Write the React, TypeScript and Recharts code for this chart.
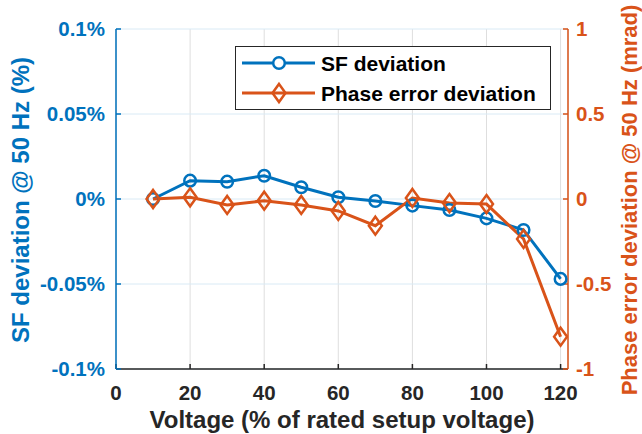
import { CartesianGrid, Legend, Line, LineChart, XAxis, YAxis } from 'recharts';

const voltages = [10, 20, 30, 40, 50, 60, 70, 80, 90, 100, 110, 120];
const sfDeviation = [0, 0.0108, 0.0102, 0.0137, 0.0069, 0.001, -0.0012, -0.0039, -0.0065, -0.0114, -0.0182, -0.047];
const phaseDeviation = [0, 0.01, -0.035, -0.01, -0.035, -0.07, -0.157, 0.006, -0.024, -0.03, -0.235, -0.81];

const xTicks = [0, 20, 40, 60, 80, 100, 120];
const sfTicks = [-0.1, -0.05, 0, 0.05, 0.1];
const phaseTicks = [-1, -0.5, 0, 0.5, 1];

const BLUE = '#0072BD';
const ORANGE = '#D95319';
const DARK = '#262626';
const FONT = '"Liberation Sans", Arial, Helvetica, sans-serif';

const data = voltages.map((v, i) => ({ v, sf: sfDeviation[i], phase: phaseDeviation[i] }));

type DotProps = { cx?: number; cy?: number; index?: number };

function Diamond({ cx, cy, index }: DotProps) {
  if (cx == null || cy == null) return <g key={`d${index}`} />;
  const w = 6.5;
  const h = 9;
  return (
    <path
      key={`d${index}`}
      d={`M${cx},${cy - h}L${cx + w},${cy}L${cx},${cy + h}L${cx - w},${cy}Z`}
      fill="none"
      stroke={ORANGE}
      strokeWidth={2.5}
    />
  );
}

function LegendBox() {
  const rows = [
    { label: 'SF deviation', color: BLUE, marker: 'circle' },
    { label: 'Phase error deviation', color: ORANGE, marker: 'diamond' },
  ];
  return (
    <div
      style={{
        width: 316,
        height: 64,
        border: `1.5px solid ${DARK}`,
        background: '#fff',
        boxSizing: 'border-box',
        position: 'relative',
      }}
    >
      <svg width={316} height={64} style={{ position: 'absolute', left: -1.5, top: -1.5 }}>
        {rows.map((r, i) => {
          const y = 17 + i * 30;
          return (
            <g key={r.label}>
              <line x1={7} x2={80} y1={y} y2={y} stroke={r.color} strokeWidth={3} />
              {r.marker === 'circle' ? (
                <circle cx={44} cy={y} r={5.8} fill="#fff" stroke={r.color} strokeWidth={2.5} />
              ) : (
                <path
                  d={`M44,${y - 9}L50.5,${y}L44,${y + 9}L37.5,${y}Z`}
                  fill="none"
                  stroke={r.color}
                  strokeWidth={2.5}
                />
              )}
              <text x={86} y={y + 7.5} fontFamily={FONT} fontWeight="bold" fontSize={21} fill="#000">
                {r.label}
              </text>
            </g>
          );
        })}
      </svg>
    </div>
  );
}

export default function App() {
  const tickFont = { fontFamily: FONT, fontWeight: 'bold', fontSize: 20.5 };
  return (
    <div style={{ position: 'absolute', left: 0, top: 0, width: 642, height: 434, background: '#fff' }}>
      <LineChart width={642} height={434} data={data} margin={{ top: 29, right: 0, bottom: 0, left: 0 }}>
        <CartesianGrid xAxisId={0} yAxisId="left" horizontal={false} stroke="#DEDEDE" strokeWidth={1} />
        <CartesianGrid xAxisId={0} yAxisId="left" vertical={false} stroke="#D9EAF5" strokeWidth={1} />
        <XAxis
          xAxisId={0}
          dataKey="v"
          type="number"
          domain={[0, 122]}
          ticks={xTicks}
          allowDataOverflow
          height={65}
          stroke={DARK}
          strokeWidth={1.5}
          tickSize={-5}
          tickMargin={21}
          tick={{ ...tickFont, fill: DARK }}
          label={{
            content: () => (
              <text x={342} y={428} textAnchor="middle" fontFamily={FONT} fontWeight="bold" fontSize={24} fill={DARK}>
                Voltage (% of rated setup voltage)
              </text>
            ),
          }}
        />
        <XAxis
          xAxisId="top"
          orientation="top"
          dataKey="v"
          type="number"
          domain={[0, 122]}
          ticks={xTicks}
          height={0}
          stroke={DARK}
          strokeWidth={1.5}
          tickSize={-5}
          tick={() => <g />}
        />
        <YAxis
          yAxisId="left"
          domain={[-0.1, 0.1]}
          ticks={sfTicks}
          width={116}
          stroke={BLUE}
          strokeWidth={1.5}
          tickSize={-5}
          tickMargin={16}
          tick={{ ...tickFont, fill: BLUE }}
          tickFormatter={(v: number) => `${v}%`}
          label={{
            content: () => (
              <text
                x={29}
                y={200}
                transform="rotate(-90 29 200)"
                textAnchor="middle"
                fontFamily={FONT}
                fontWeight="bold"
                fontSize={24}
                fill={BLUE}
              >
                SF deviation @ 50 Hz (%)
              </text>
            ),
          }}
        />
        <YAxis
          yAxisId="right"
          orientation="right"
          domain={[-1, 1]}
          ticks={phaseTicks}
          width={74}
          stroke={ORANGE}
          strokeWidth={1.5}
          tickSize={-5}
          tickMargin={13}
          tick={{ ...tickFont, fill: ORANGE, textAnchor: 'start' }}
          label={{
            content: () => (
              <text
                x={636.5}
                y={200}
                transform="rotate(-90 636.5 200)"
                textAnchor="middle"
                fontFamily={FONT}
                fontWeight="bold"
                fontSize={22}
                fill={ORANGE}
              >
                Phase error deviation @ 50 Hz (mrad)
              </text>
            ),
          }}
        />
        <Legend
          layout="vertical"
          align="center"
          verticalAlign="middle"
          wrapperStyle={{ left: 235, top: 46, width: 316, height: 64 }}
          content={() => <LegendBox />}
        />
        <Line
          xAxisId={0}
          yAxisId="left"
          dataKey="sf"
          stroke={BLUE}
          strokeWidth={3}
          dot={{ r: 5.8, fill: 'none', stroke: BLUE, strokeWidth: 2.5 }}
          isAnimationActive={false}
        />
        <Line
          xAxisId={0}
          yAxisId="right"
          dataKey="phase"
          stroke={ORANGE}
          strokeWidth={3}
          dot={(p: DotProps) => <Diamond {...p} />}
          isAnimationActive={false}
        />
      </LineChart>
    </div>
  );
}
